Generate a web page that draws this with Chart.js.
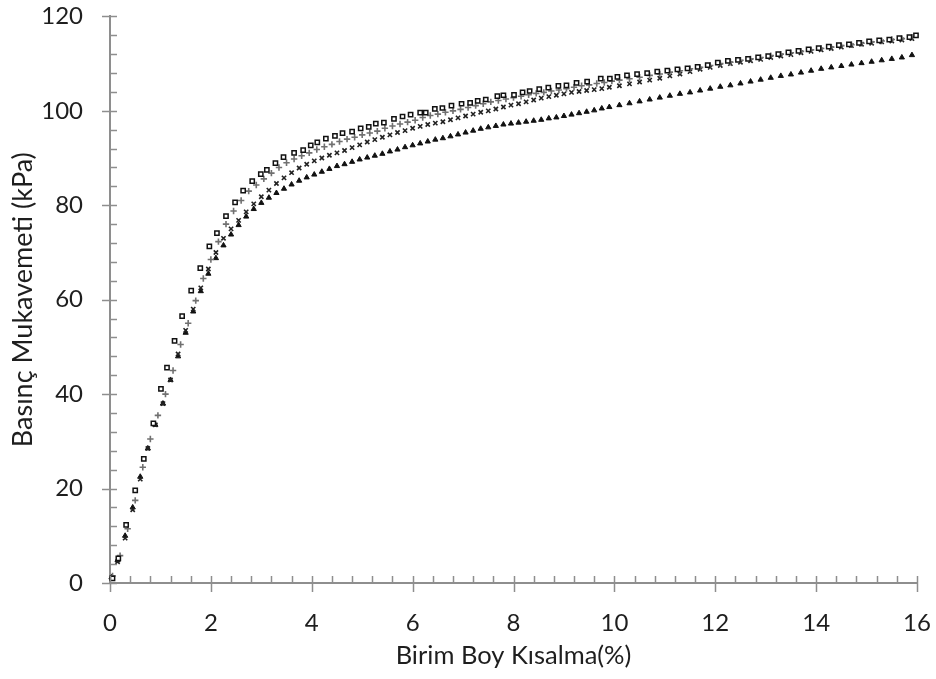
<!DOCTYPE html>
<html>
<head>
<meta charset="utf-8">
<script src="https://cdn.jsdelivr.net/npm/chart.js@4.4.1/dist/chart.umd.min.js"></script>
<style>
  html, body { margin: 0; padding: 0; background: #fff; }
  #wrap { width: 936px; height: 679px; }
</style>
</head>
<body>
<div id="wrap"><canvas id="chart" width="936" height="679"></canvas></div>
<script>
// axis ranges / tick labels
const xMax = 16
const yMax = 120
const xMajorStep = 2
const xMinorStep = 0.4
const yMajorStep = 20
const yMinorStep = 4

// [strain %, stress kPa]
const squares = [
  [0.05,1.0],[0.165,5.2],[0.32,12.3],[0.5,19.6],[0.67,26.3],[0.86,33.8],[1.01,41.1],[1.13,45.6],
  [1.28,51.3],[1.43,56.5],[1.61,61.9],[1.79,66.7],[1.97,71.3],[2.12,74.1],[2.30,77.7],[2.48,80.6],
  [2.64,83.1],[2.82,85.1],[2.99,86.6],[3.11,87.5],[3.28,88.9],[3.44,90.2],[3.65,91.1],[3.83,91.7],
  [3.98,92.7],[4.11,93.3],[4.28,94.1],[4.46,94.7],[4.61,95.3],[4.80,95.6],[4.97,96.3],[5.13,96.6],
  [5.27,97.3],[5.43,97.5],[5.63,98.3],[5.80,98.8],[5.96,99.2],[6.15,99.6],[6.26,99.6],[6.44,100.4],
  [6.59,100.6],[6.77,101.1],[6.97,101.5],[7.14,101.7],[7.29,102.1],[7.45,102.4],[7.68,103.1],[7.80,103.3],
  [8.01,103.4],[8.18,103.9],[8.32,104.2],[8.51,104.6],[8.69,104.9],[8.89,105.3],[9.05,105.4],[9.25,105.9],
  [9.46,106.2],[9.73,106.8],[9.91,106.8],[10.06,107.2],[10.25,107.5],[10.45,107.8],[10.65,108.0],[10.85,108.3],
  [11.05,108.5],[11.25,108.8],[11.45,109.0],[11.65,109.3],[11.85,109.7],[12.05,110.2],[12.25,110.6],[12.45,110.8],
  [12.65,111.0],[12.85,111.3],[13.05,111.6],[13.25,112.0],[13.45,112.4],[13.65,112.7],[13.85,113.0],[14.05,113.3],
  [14.25,113.6],[14.45,113.9],[14.65,114.1],[14.85,114.4],[15.05,114.7],[15.25,114.9],[15.45,115.1],[15.65,115.4],
  [15.85,115.6],[15.98,116.0]
]

const crosses = [
  [0.05,1.5],[0.2,5.8],[0.35,11.5],[0.5,17.5],[0.65,24.5],[0.8,30.5],[0.95,35.5],[1.1,40.0],
  [1.25,45.0],[1.4,50.5],[1.55,55.0],[1.7,59.8],[1.85,64.5],[2.0,68.5],[2.15,72.3],[2.3,76.0],
  [2.45,78.8],[2.6,81.0],[2.75,83.0],[2.9,84.3],[3.05,85.6],[3.2,86.8],[3.35,88.0],[3.5,89.0],
  [3.65,89.8],[3.8,90.5],[3.95,91.1],[4.1,91.8],[4.25,92.4],[4.4,92.9],[4.55,93.5],[4.7,94.0],
  [4.85,94.4],[5.0,94.9],[5.15,95.3],[5.3,95.7],[5.45,96.3],[5.6,96.8],[5.75,97.2],[5.9,97.6],
  [6.05,98.0],[6.2,98.6],[6.35,99.0],[6.5,99.3],[6.65,99.7],[6.8,100.0],[6.95,100.3],[7.1,100.7],
  [7.25,101.1],[7.4,101.5],[7.55,101.9],[7.7,102.2],[7.85,102.5],[8.0,102.8],[8.15,103.1],[8.3,103.4],
  [8.45,103.7],[8.6,103.9],[8.75,104.2],[8.9,104.4],[9.05,104.7],[9.2,105.0],[9.35,105.3],[9.5,105.5],
  [9.65,105.8],[9.8,106.0],[9.95,106.3],[10.1,106.5],[10.3,106.8],[10.5,107.1],[10.7,107.5],[10.9,107.8],
  [11.1,108.2],[11.3,108.5],[11.5,108.9],[11.7,109.2],[11.9,109.6],[12.1,110.0],[12.3,110.3],[12.5,110.7],
  [12.7,111.0],[12.9,111.3],[13.1,111.7],[13.3,112.0],[13.5,112.3],[13.7,112.6],[13.9,112.9],[14.1,113.2],
  [14.3,113.5],[14.5,113.8],[14.7,114.0],[14.9,114.3],[15.1,114.6],[15.3,114.8],[15.5,115.1],[15.7,115.3],
  [15.9,115.6]
]

const xmarks = [
  [0.03,1.0],[0.15,4.5],[0.3,9.5],[0.45,15.5],[0.6,22.0],[0.75,28.5],[0.9,33.5],[1.05,38.0],
  [1.2,43.0],[1.35,48.5],[1.5,53.5],[1.65,58.0],[1.8,62.5],[1.95,66.5],[2.1,70.0],[2.25,73.0],
  [2.4,75.0],[2.55,76.8],[2.7,78.6],[2.85,80.3],[3.0,81.8],[3.15,83.2],[3.3,84.6],[3.45,85.8],
  [3.6,86.9],[3.75,87.9],[3.9,88.7],[4.05,89.4],[4.2,90.0],[4.35,90.6],[4.5,91.1],[4.65,91.6],
  [4.8,92.2],[4.95,92.8],[5.1,93.4],[5.25,93.9],[5.4,94.4],[5.55,94.9],[5.7,95.4],[5.85,95.8],
  [6.0,96.3],[6.15,96.7],[6.3,97.1],[6.45,97.4],[6.6,97.7],[6.75,98.1],[6.9,98.5],[7.05,98.9],
  [7.2,99.3],[7.35,99.7],[7.5,100.0],[7.65,100.4],[7.8,100.8],[7.95,101.2],[8.1,101.5],[8.25,101.9],
  [8.4,102.3],[8.55,102.7],[8.7,103.0],[8.85,103.3],[9.0,103.6],[9.15,103.9],[9.3,104.1],[9.45,104.3],
  [9.6,104.5],[9.75,104.7],[9.9,105.0],[10.1,105.3],[10.3,105.7],[10.5,106.1],[10.7,106.5],[10.9,106.9],
  [11.1,107.4],[11.3,107.8],[11.5,108.3],[11.7,108.8],[11.9,109.2],[12.1,109.6],[12.3,110.0],[12.5,110.3],
  [12.7,110.6],[12.9,110.9],[13.1,111.3],[13.3,111.6],[13.5,111.9],[13.7,112.3],[13.9,112.6],[14.1,112.9],
  [14.3,113.2],[14.5,113.5],[14.7,113.8],[14.9,114.1],[15.1,114.3],[15.3,114.6],[15.5,114.8],[15.7,115.0],
  [15.9,115.3]
]

const triangles = [
  [0.03,1.2],[0.15,4.8],[0.3,10.0],[0.45,16.0],[0.6,22.5],[0.75,28.5],[0.9,33.5],[1.05,38.0],
  [1.2,43.0],[1.35,48.0],[1.5,53.0],[1.65,57.5],[1.8,61.8],[1.95,65.5],[2.1,68.8],[2.25,71.5],
  [2.4,73.8],[2.55,75.8],[2.7,77.6],[2.85,79.2],[3.0,80.5],[3.15,81.6],[3.3,82.6],[3.45,83.5],
  [3.6,84.4],[3.75,85.2],[3.9,85.9],[4.05,86.5],[4.2,87.1],[4.35,87.7],[4.5,88.3],[4.65,88.7],
  [4.8,89.2],[4.95,89.7],[5.1,90.1],[5.25,90.5],[5.4,90.9],[5.55,91.4],[5.7,91.8],[5.85,92.3],
  [6.0,92.7],[6.15,93.1],[6.3,93.5],[6.45,93.9],[6.6,94.2],[6.75,94.6],[6.9,95.0],[7.05,95.4],
  [7.2,95.8],[7.35,96.2],[7.5,96.5],[7.65,96.8],[7.8,97.1],[7.95,97.3],[8.1,97.5],[8.25,97.7],
  [8.4,97.9],[8.55,98.1],[8.7,98.4],[8.85,98.6],[9.0,98.9],[9.15,99.2],[9.3,99.5],[9.45,99.8],
  [9.6,100.1],[9.75,100.5],[9.9,100.8],[10.1,101.2],[10.3,101.6],[10.5,102.0],[10.7,102.4],[10.9,102.8],
  [11.1,103.2],[11.3,103.6],[11.5,103.9],[11.7,104.3],[11.9,104.7],[12.1,105.1],[12.3,105.4],[12.5,105.8],
  [12.7,106.2],[12.9,106.6],[13.1,107.0],[13.3,107.4],[13.5,107.7],[13.7,108.1],[13.9,108.5],[14.1,108.9],
  [14.3,109.2],[14.5,109.5],[14.7,109.8],[14.9,110.1],[15.1,110.4],[15.3,110.7],[15.5,111.0],[15.7,111.3],
  [15.9,111.8]
]

const axisColor = '#8e8e8e'
const textColor = '#1e1e1e'

function toPoints(arr) {
  return arr.map(p => ({ x: p[0], y: p[1] }))
}

// excel-style tick marks: majors cross the axis, minors point inside
const tickMarks = {
  id: 'tickMarks',
  afterDraw(chart) {
    const { ctx, chartArea, scales } = chart
    const x = scales.x
    const y = scales.y
    ctx.save()
    ctx.strokeStyle = axisColor
    ctx.lineWidth = 1.5
    ctx.beginPath()
    for (let i = 0; i <= Math.round(xMax / xMinorStep); i++) {
      const v = i * xMinorStep
      const px = Math.round(x.getPixelForValue(v)) + 0.5
      const major = Math.abs(v / xMajorStep - Math.round(v / xMajorStep)) < 1e-6
      ctx.moveTo(px, chartArea.bottom - 7)
      ctx.lineTo(px, chartArea.bottom + (major ? 9 : 0))
    }
    for (let i = 0; i <= Math.round(yMax / yMinorStep); i++) {
      const v = i * yMinorStep
      const py = Math.round(y.getPixelForValue(v)) + 0.5
      const major = v % yMajorStep === 0
      ctx.moveTo(chartArea.left - (major ? 8 : 0), py)
      ctx.lineTo(chartArea.left + 7, py)
    }
    ctx.stroke()
    ctx.restore()
  }
}

// invisible tick lines only used to push the labels away from the axis
const spacerGrid = len => ({
  display: true,
  drawOnChartArea: false,
  drawTicks: true,
  tickLength: len,
  color: 'rgba(0,0,0,0)'
})

const ctx = document.getElementById('chart').getContext('2d')

new Chart(ctx, {
  type: 'scatter',
  data: {
    datasets: [
      {
        label: 'kare',
        data: toPoints(squares),
        pointStyle: 'rect',
        pointRadius: 3,
        backgroundColor: '#ffffff',
        borderColor: '#111111',
        borderWidth: 1.5
      },
      {
        label: 'arti',
        data: toPoints(crosses),
        pointStyle: 'cross',
        pointRadius: 3.2,
        borderColor: '#707070',
        borderWidth: 1.6
      },
      {
        label: 'carpi',
        data: toPoints(xmarks),
        pointStyle: 'crossRot',
        pointRadius: 3,
        borderColor: '#222222',
        borderWidth: 1.6
      },
      {
        label: 'ucgen',
        data: toPoints(triangles),
        pointStyle: 'triangle',
        pointRadius: 3,
        backgroundColor: '#111111',
        borderColor: '#111111',
        borderWidth: 1
      }
    ]
  },
  options: {
    responsive: false,
    animation: false,
    clip: false,
    layout: { padding: { top: 16, right: 19, left: 0, bottom: 0 } },
    plugins: {
      legend: { display: false },
      tooltip: { enabled: false }
    },
    scales: {
      x: {
        type: 'linear',
        min: 0,
        max: xMax,
        afterFit: s => { s.height = 96 },
        grid: spacerGrid(24),
        border: { display: true, color: axisColor, width: 2 },
        ticks: {
          stepSize: xMajorStep,
          padding: 2,
          color: textColor,
          font: { family: 'Lato', size: 24 }
        },
        title: {
          display: true,
          text: 'Birim Boy Kısalma(%)',
          color: textColor,
          font: { family: 'Lato', size: 25.5 },
          padding: { top: 0, bottom: 8 }
        }
      },
      y: {
        type: 'linear',
        min: 0,
        max: yMax,
        afterFit: s => { s.width = 110 },
        grid: spacerGrid(25),
        border: { display: true, color: axisColor, width: 2 },
        ticks: {
          stepSize: yMajorStep,
          padding: 2,
          color: textColor,
          font: { family: 'Lato', size: 24 }
        },
        title: {
          display: true,
          text: 'Basınç Mukavemeti (kPa)',
          color: textColor,
          font: { family: 'Lato', size: 27 },
          padding: { top: 7, bottom: 0 }
        }
      }
    }
  },
  plugins: [tickMarks]
})
</script>
</body>
</html>
